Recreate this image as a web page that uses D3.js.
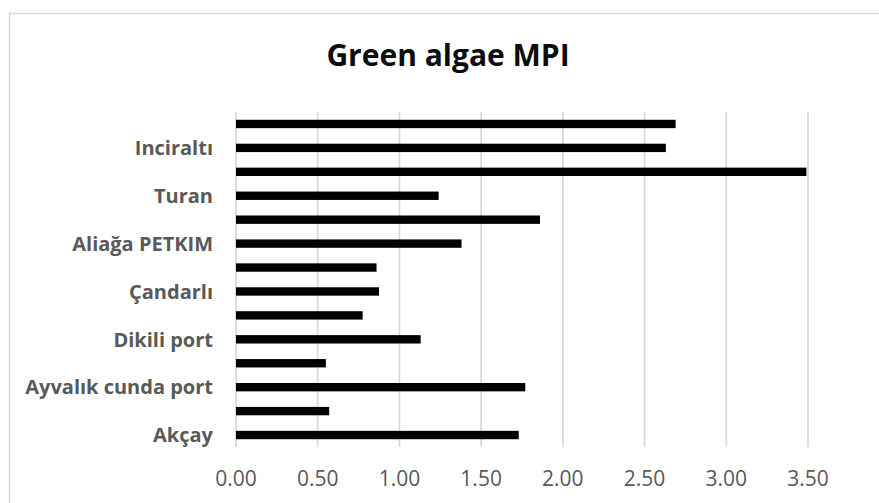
<!DOCTYPE html>
<html>
<head>
<meta charset="utf-8">
<script src="https://cdn.jsdelivr.net/npm/d3@7"></script>
<style>
  body { margin: 0; background: #fff; }
  svg { display: block; }
</style>
</head>
<body>
<svg id="chart" width="879" height="503"></svg>
<script>
// chart text
var title = "Green algae MPI"

// categories from bottom to top; Excel only printed every other label
var categories = ["Akçay", "", "Ayvalık cunda port", "", "Dikili port", "", "Çandarlı", "",
                  "Aliağa PETKIM", "", "Turan", "", "Inciraltı", ""]
var values = [1.73, 0.57, 1.77, 0.55, 1.13, 0.775, 0.875, 0.86,
              1.38, 1.86, 1.24, 3.49, 2.63, 2.69]
var xTicks = [0, 0.5, 1, 1.5, 2, 2.5, 3, 3.5]

var font = "'Open Sans', sans-serif"
var svg = d3.select("#chart")

// outer chart border (right/bottom edges fall outside the picture)
svg.append("rect")
  .attr("x", 9.5).attr("y", 13.5)
  .attr("width", 900).attr("height", 520)
  .attr("fill", "none")
  .attr("stroke", "#d9d9d9")
  .attr("stroke-width", 1.5)

var plotLeft = 236, plotRight = 808, plotTop = 112, plotBottom = 447

var x = d3.scaleLinear().domain([0, 3.5]).range([plotLeft, plotRight])
var y = d3.scaleBand()
  .domain(d3.range(categories.length))
  .range([plotBottom, plotTop])
  .paddingInner(0.65)
  .paddingOuter(0.325)

// gridlines
svg.append("g").selectAll("line")
  .data(xTicks)
  .enter().append("line")
  .attr("x1", d => x(d)).attr("x2", d => x(d))
  .attr("y1", plotTop).attr("y2", plotBottom)
  .attr("stroke", "#d9d9d9")
  .attr("stroke-width", 1.75)

// bars
svg.append("g").selectAll("rect")
  .data(values)
  .enter().append("rect")
  .attr("x", x(0))
  .attr("y", (d, i) => y(i))
  .attr("width", d => x(d) - x(0))
  .attr("height", y.bandwidth())
  .attr("fill", "#000")

// x axis tick labels
svg.append("g").selectAll("text")
  .data(xTicks)
  .enter().append("text")
  .attr("x", d => x(d))
  .attr("y", 486)
  .attr("text-anchor", "middle")
  .attr("font-family", font)
  .attr("font-size", 21)
  .attr("fill", "#595959")
  .text(d => d3.format(".2f")(d))

// category labels
svg.append("g").selectAll("text")
  .data(categories)
  .enter().append("text")
  .attr("x", 213)
  .attr("y", (d, i) => y(i) + y.bandwidth() / 2)
  .attr("dy", "0.36em")
  .attr("text-anchor", "end")
  .attr("font-family", font)
  .attr("font-weight", "bold")
  .attr("font-size", 20)
  .attr("fill", "#595959")
  .text(d => d)

// title
svg.append("text")
  .attr("x", 448)
  .attr("y", 66)
  .attr("text-anchor", "middle")
  .attr("font-family", font)
  .attr("font-weight", "bold")
  .attr("font-size", 30)
  .attr("fill", "#0d0d0d")
  .text(title)
</script>
</body>
</html>
